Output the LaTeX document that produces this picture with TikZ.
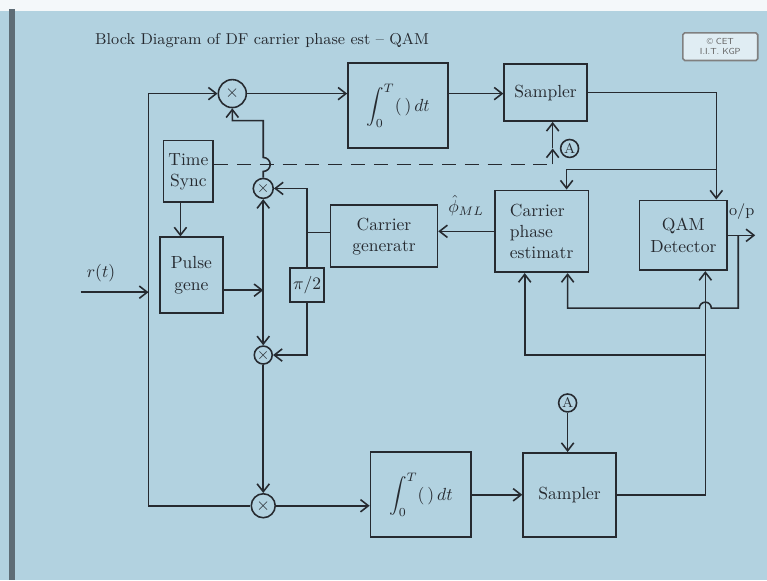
\documentclass[tikz,border=0pt]{standalone}
\usetikzlibrary{arrows.meta}
\definecolor{board}{RGB}{178,210,224}
\definecolor{ink}{RGB}{38,42,48}
\begin{document}
\begin{tikzpicture}[x=0.02cm,y=-0.02cm,font=\normalsize,
	>={Straight Barb[length=4.5pt,width=7pt]},
	blk/.style={draw=ink,line width=1pt,align=center,text=ink,inner sep=2pt},
	mult/.style={draw=ink,circle,line width=0.9pt,inner sep=0pt,text=ink},
	every path/.style={line width=0.9pt,draw=ink}]
	\useasboundingbox (0,0) rectangle (767,580);
	\fill[board] (0,0) rectangle (767,580);
	\fill[white!85!board] (0,0) rectangle (767,9);
	\fill[ink!60!board] (9,9) rectangle (13,580);
	% title and logo
	\node[text=ink,anchor=west,font=\small] (title) at (88,40) {Block Diagram of DF carrier phase est -- QAM};
	\node[draw=gray,fill=white!60!board,rounded corners=1pt,align=center,text=gray!80!black,
		font=\fontsize{5}{5.5}\selectfont\sffamily,minimum width=1.5cm,minimum height=0.42cm] (logo) at (721,46) {\textcopyright\ CET\\I.I.T. KGP};
	% blocks
	\node[blk,minimum width=2cm,minimum height=1.7cm] (intT) at (398,105) {$\displaystyle\int_0^T(\,)\,dt$};
	\node[blk,minimum width=1.66cm,minimum height=1.14cm] (smpT) at (546,92) {Sampler};
	\node[blk,minimum width=1cm,minimum height=1.24cm] (tsync) at (188,171) {Time\\Sync};
	\node[blk,minimum width=1.26cm,minimum height=1.52cm] (pulse) at (191,275) {Pulse\\gene};
	\node[blk,minimum width=0.68cm,minimum height=0.68cm,inner sep=0pt] (shift) at (307,285) {$\pi/2$};
	\node[blk,minimum width=2.14cm,minimum height=1.24cm] (cgen) at (384,236) {Carrier\\generatr};
	\node[blk,minimum width=1.88cm,minimum height=1.64cm,align=left] (cpe) at (542,231) {Carrier\\phase\\estimatr};
	\node[blk,minimum width=1.76cm,minimum height=1.4cm] (qam) at (684,235) {QAM\\Detector};
	\node[blk,minimum width=2.02cm,minimum height=1.7cm] (intB) at (421,495) {$\displaystyle\int_0^T(\,)\,dt$};
	\node[blk,minimum width=1.86cm,minimum height=1.68cm] (smpB) at (570,495) {Sampler};
	% multipliers
	\node[mult,minimum size=0.56cm] (mulT) at (232,93) {$\times$};
	\node[mult,minimum size=0.4cm,font=\small] (mulU) at (263,188) {$\times$};
	\node[mult,minimum size=0.36cm,font=\small] (mulL) at (263,355) {$\times$};
	\node[mult,minimum size=0.48cm] (mulB) at (263,506) {$\times$};
	\node[mult,minimum size=0.36cm,font=\footnotesize] (aT) at (570,148) {A};
	\node[mult,minimum size=0.36cm,font=\footnotesize] (aB) at (568,403) {A};
	% junctions
	\coordinate (rin) at (80,292);
	\coordinate (tl) at (148,292);
	\coordinate (pj) at (263,290);
	\coordinate (cj) at (307,232);
	\coordinate (hp) at (263,164);
	\coordinate (tk) at (263,120);
	\coordinate (dA) at (553,164);
	\coordinate (sj) at (717,169);
	\coordinate (sk) at (567,169);
	\coordinate (qj) at (706,355);
	\coordinate (cb) at (525,355);
	\coordinate (fj) at (739,235);
	\coordinate (fb) at (739,308);
	\coordinate (hp2) at (712,308);
	\coordinate (ce) at (568,308);
	\coordinate (out) at (756,235);
	% input
	\draw[->] (rin) -- (tl) node[pos=0.3,above=2pt,text=ink] (rlab) {$r(t)$};
	\draw[->] (mulT -| tl) -- (mulT);
	\draw (mulT -| tl) -- (mulB -| tl) -- (mulB.west);
	% upper branch
	\draw[->] (mulT) -- (mulT -| intT.west);
	\draw[->] (intT.east |- mulT) -- (smpT.west |- mulT);
	\draw[->] (smpT.east) -- (smpT.east -| sj) -- (sj |- qam.north);
	\draw[->] (sj) -- (sk) -- (sk |- cpe.north);
	% timing
	\draw[->] ([xshift=-0.16cm]tsync.south) -- ([xshift=-0.16cm]tsync.south |- pulse.north);
	\draw[dash pattern=on 8pt off 5pt] (tsync.east |- dA) -- (dA);
	\draw[->] (dA) -- (dA |- aT);
	\draw[->] (dA |- aT) -- (dA |- smpT.south);
	% local carrier
	\draw[->] (pulse.east |- pj) -- (pj);
	\draw[->] (pj) -- (mulU.south);
	\draw[->] (pj) -- (mulL.north);
	\draw (cgen.west |- cj) -- (cj);
	\draw[->] (cj) |- (mulU.east);
	\draw (cj) -- (shift.north);
	\draw[->] (shift.south) |- (mulL.east);
	\draw[->] (mulU.north) -- ([yshift=-0.14cm]hp) arc[start angle=-90,end angle=90,radius=0.14cm] -- (tk) -| (mulT.south);
	\draw[->] (mulL.south) -- (mulB.north);
	% lower branch
	\draw[->] (mulB.east) -- (mulB -| intB.west);
	\draw[->] (intB.east) -- (smpB.west);
	\draw[->] (aB.south) -- (aB.south |- smpB.north);
	\draw[->] (smpB.east) -| (qam.south -| qj);
	\draw[->] (qj) -- (cb) -- (cb |- cpe.south);
	% estimator and output
	\draw[->] (cpe.west) -- (cpe.west -| cgen.east) node[midway,above=5pt,text=ink] (phi) {$\hat{\phi}_{ML}$};
	\draw[->] (qam.east) -- (out) node[pos=0.5,above=5pt,text=ink,font=\small] (op) {o/p};
	\draw[->] (fj) -- (fb) -- (hp2) arc[start angle=0,end angle=180,radius=0.12cm] -- (ce) -- (ce |- cpe.south);
\end{tikzpicture}
\end{document}
